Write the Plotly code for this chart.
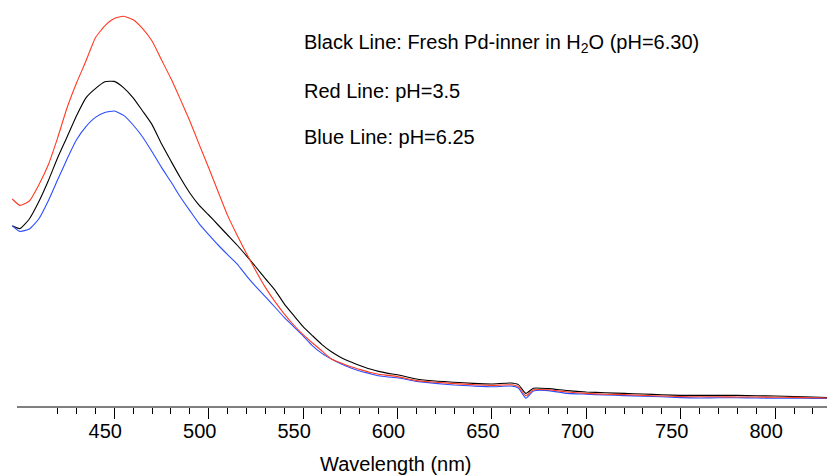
import plotly.graph_objects as go

# Wavelength grid (nm)
wavelength = [396, 400, 405, 410, 415, 420, 425, 430, 435, 440, 445, 450, 455, 460, 465,
              470, 475, 480, 485, 490, 495, 500, 505, 510, 515, 520, 525, 530, 535, 540,
              545, 550, 555, 560, 565, 570, 575, 580, 585, 590, 595, 600, 610, 620, 630,
              640, 650, 660, 664, 668, 672, 680, 690, 700, 710, 720, 730, 740, 750, 760,
              770, 780, 790, 800, 810, 820, 832]

# Black line: fresh Pd-inner in H2O (pH=6.30)
black_abs = [0.453, 0.446, 0.470, 0.513, 0.565, 0.623, 0.675, 0.728, 0.773, 0.796, 0.813, 0.814,
             0.798, 0.773, 0.740, 0.706, 0.658, 0.615, 0.573, 0.535, 0.504, 0.480, 0.455, 0.430,
             0.405, 0.378, 0.350, 0.321, 0.293, 0.258, 0.229, 0.201, 0.178, 0.156, 0.138, 0.124,
             0.113, 0.104, 0.0955, 0.089, 0.084, 0.0805, 0.070, 0.065, 0.062, 0.059, 0.0575,
             0.060, 0.056, 0.034, 0.047, 0.046, 0.041, 0.0375, 0.0355, 0.034, 0.0325, 0.0305,
             0.029, 0.029, 0.029, 0.029, 0.028, 0.0275, 0.026, 0.025, 0.023]

# Red line: pH=3.5
red_abs = [0.520, 0.504, 0.515, 0.555, 0.605, 0.673, 0.748, 0.810, 0.865, 0.923, 0.953, 0.971,
           0.977, 0.968, 0.946, 0.915, 0.868, 0.821, 0.769, 0.715, 0.656, 0.598, 0.538, 0.479,
           0.430, 0.384, 0.340, 0.299, 0.264, 0.233, 0.205, 0.181, 0.160, 0.140, 0.120, 0.110,
           0.101, 0.094, 0.087, 0.082, 0.079, 0.076, 0.066, 0.062, 0.0585, 0.056, 0.054,
           0.0555, 0.051, 0.028, 0.043, 0.043, 0.0375, 0.034, 0.032, 0.031, 0.029, 0.0275,
           0.026, 0.0255, 0.0255, 0.025, 0.025, 0.0245, 0.024, 0.023, 0.022]

# Blue line: pH=6.25
blue_abs = [0.453, 0.439, 0.445, 0.470, 0.515, 0.568, 0.620, 0.668, 0.701, 0.724, 0.736, 0.740,
            0.729, 0.705, 0.675, 0.638, 0.599, 0.563, 0.525, 0.491, 0.458, 0.431, 0.405, 0.381,
            0.358, 0.328, 0.301, 0.276, 0.250, 0.224, 0.201, 0.178, 0.153, 0.134, 0.120, 0.108,
            0.098, 0.090, 0.084, 0.078, 0.075, 0.073, 0.064, 0.059, 0.055, 0.0525, 0.0505,
            0.0525, 0.0475, 0.022, 0.040, 0.041, 0.034, 0.032, 0.030, 0.0285, 0.027, 0.0255,
            0.0235, 0.0225, 0.023, 0.023, 0.0225, 0.022, 0.022, 0.0215, 0.021]

tick_values = [450, 500, 550, 600, 650, 700, 750, 800]
tick_labels = ["450", "500", "550", "600", "650", "700", "750", "800"]
minor_tick_values = list(range(420, 831, 10))
legend_notes = ["Black Line: Fresh Pd-inner in H<sub>2</sub>O (pH=6.30)",
                "Red Line: pH=3.5",
                "Blue Line: pH=6.25"]
x_title = "Wavelength (nm)"

FONT = "Liberation Sans, Arial, Helvetica, sans-serif"
PAGE = 8                    # browser body margin around the figure div
PLOT_L, PLOT_T = 11, 8      # plot-area corner in the page
PLOT_W, PLOT_H = 824, 399
FIG_W, FIG_H = 835 - PAGE, 476 - PAGE

fig = go.Figure()
line_kw = dict(shape="spline", smoothing=0.5, width=1.1)
fig.add_trace(go.Scatter(x=wavelength, y=black_abs, mode="lines",
                         line=dict(color="#000000", **line_kw), showlegend=False))
fig.add_trace(go.Scatter(x=wavelength, y=blue_abs, mode="lines",
                         line=dict(color="#2a4dff", **line_kw), showlegend=False))
fig.add_trace(go.Scatter(x=wavelength, y=red_abs, mode="lines",
                         line=dict(color="#ff3a22", **line_kw), showlegend=False))

fig.update_layout(
    width=FIG_W, height=FIG_H,
    margin=dict(l=PLOT_L - PAGE, r=0, t=PLOT_T - PAGE,
                b=FIG_H - PLOT_H - (PLOT_T - PAGE), autoexpand=False),
    paper_bgcolor="white", plot_bgcolor="white",
    font=dict(family=FONT, color="black", size=20),
    xaxis=dict(
        range=[395.3, 831.7], automargin=False,
        showgrid=False, zeroline=False, showline=False,
        tickmode="array", tickvals=tick_values, ticktext=tick_labels,
        ticks="outside", ticklen=11, tickwidth=1, tickcolor="black",
        ticklabelshift=-9, ticklabelstandoff=-5,
        tickfont=dict(family=FONT, size=20, color="black"),
        minor=dict(tickmode="array", tickvals=minor_tick_values, ticks="outside",
                   ticklen=6, tickwidth=1, tickcolor="black", showgrid=False),
    ),
    yaxis=dict(range=[0, 0.9975], visible=False),
    shapes=[dict(type="line", xref="paper", yref="paper",
                 x0=(17 - PLOT_L) / PLOT_W, x1=1, y0=0, y1=0,
                 line=dict(color="black", width=1))],
)

def px(xr):
    return (xr - PLOT_L) / PLOT_W

def py(yr):
    return 1 - (yr - PLOT_T) / PLOT_H

for txt, yr in zip(legend_notes, [43, 91, 137]):
    fig.add_annotation(text=txt, xref="paper", yref="paper", x=px(302), y=py(yr),
                       xanchor="left", yanchor="middle", showarrow=False,
                       font=dict(family=FONT, size=20, color="black"))

fig.add_annotation(text=x_title, xref="paper", yref="paper", x=px(396), y=py(464),
                   xanchor="center", yanchor="middle", showarrow=False,
                   font=dict(family=FONT, size=20, color="black"))

fig.write_html("out.html")
